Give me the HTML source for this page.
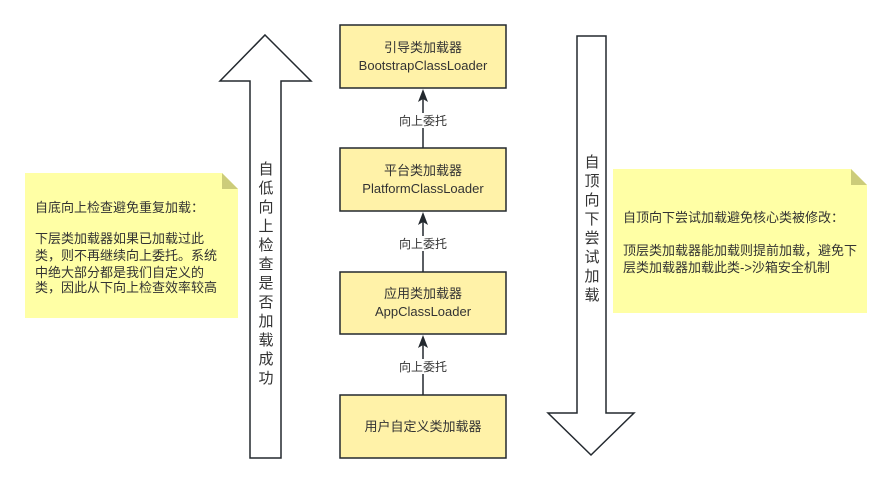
<!DOCTYPE html>
<html><head><meta charset="utf-8"><style>
body{margin:0;background:#fff;}
svg text{font-family:"Liberation Sans","Noto Sans CJK SC",sans-serif;fill:#333;}
</style></head><body>
<svg width="892" height="483" viewBox="0 0 892 483" xmlns="http://www.w3.org/2000/svg">
<polygon points="265,35 311,81 281,81 281,458 250,458 250,81 220,81" fill="#fff" stroke="#23292f" stroke-width="1.5"/>
<g font-size="15" text-anchor="middle">
<text x="266" y="174">自</text><text x="266" y="193">低</text><text x="266" y="212">向</text><text x="266" y="231">上</text><text x="266" y="250">检</text><text x="266" y="269">查</text><text x="266" y="288">是</text><text x="266" y="307">否</text><text x="266" y="326">加</text><text x="266" y="345">载</text><text x="266" y="364">成</text><text x="266" y="383">功</text>
</g>
<polygon points="577,36 606,36 606,413 634,413 591,455 548,413 577,413" fill="#fff" stroke="#23292f" stroke-width="1.5"/>
<g font-size="15" text-anchor="middle">
<text x="592" y="167">自</text><text x="592" y="186">顶</text><text x="592" y="205">向</text><text x="592" y="224">下</text><text x="592" y="243">尝</text><text x="592" y="262">试</text><text x="592" y="281">加</text><text x="592" y="300">载</text>
</g>
<polygon points="25,173 222,173 238,189 238,318 25,318" fill="#ffffa5"/>
<polygon points="222,173 238,189 222,189" fill="#cccc7a"/>
<g font-size="13">
<text x="35" y="212">自底向上检查避免重复加载：</text>
<text x="35" y="243">下层类加载器如果已加载过此</text>
<text x="35" y="260">类，则不再继续向上委托。系统</text>
<text x="35" y="277">中绝大部分都是我们自定义的</text>
<text x="35" y="292">类，因此从下向上检查效率较高</text>
</g>
<polygon points="613,169 851,169 867,185 867,313 613,313" fill="#ffffa5"/>
<polygon points="851,169 867,185 851,185" fill="#cccc7a"/>
<g font-size="13">
<text x="623" y="222">自顶向下尝试加载避免核心类被修改：</text>
<text x="623" y="255">顶层类加载器能加载则提前加载，避免下</text>
<text x="623" y="272">层类加载器加载此类-&gt;沙箱安全机制</text>
</g>
<g fill="#fff2a8" stroke="#23292f" stroke-width="1.5">
<rect x="340" y="25" width="166" height="63"/>
<rect x="340" y="148" width="166" height="63"/>
<rect x="340" y="272" width="166" height="62"/>
<rect x="340" y="395" width="166" height="63"/>
</g>
<g font-size="13" text-anchor="middle">
<text x="423" y="52">引导类加载器</text><text x="423" y="70">BootstrapClassLoader</text>
<text x="423" y="175">平台类加载器</text><text x="423" y="193">PlatformClassLoader</text>
<text x="423" y="298">应用类加载器</text><text x="423" y="316">AppClassLoader</text>
<text x="423" y="431">用户自定义类加载器</text>
</g>
<g stroke="#23292f" stroke-width="1.5">
<line x1="423" y1="148" x2="423" y2="98"/>
<line x1="423" y1="272" x2="423" y2="221"/>
<line x1="423" y1="395" x2="423" y2="344"/>
</g>
<g fill="#23292f">
<polygon points="423,89 428,102 423,99 418,102"/>
<polygon points="423,212 428,225 423,222 418,225"/>
<polygon points="423,335 428,348 423,345 418,348"/>
</g>
<g font-size="12" text-anchor="middle">
<rect x="396" y="113" width="54" height="15" fill="#fff"/>
<rect x="396" y="236" width="54" height="15" fill="#fff"/>
<rect x="396" y="359" width="54" height="15" fill="#fff"/>
<text x="423" y="125">向上委托</text>
<text x="423" y="248">向上委托</text>
<text x="423" y="371">向上委托</text>
</g>
</svg>
</body></html>
